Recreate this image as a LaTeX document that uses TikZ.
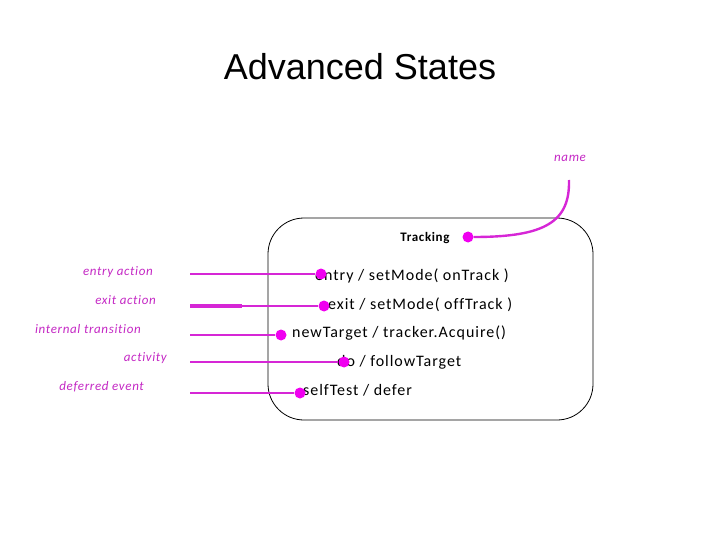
\documentclass[tikz,border=0pt]{standalone}
\usepackage{fontspec}
\setmainfont{Carlito}
\newfontfamily\arialf{Liberation Sans}
\newfontfamily\itemf[LetterSpace=6,Ligatures=NoCommon]{Carlito}
\newfontfamily\lblf[LetterSpace=5,Ligatures=NoCommon]{Carlito}
\definecolor{lnmag}{RGB}{214,38,214}
\definecolor{dotmag}{RGB}{240,0,240}
\definecolor{lblmag}{RGB}{196,40,196}
\begin{document}
\begin{tikzpicture}[x=1pt,y=-1pt,
  lbl/.style={font=\lblf\fontsize{13}{15}\selectfont\itshape, text=lblmag, anchor=base east, inner sep=0},
  itm/.style={font=\itemf\fontsize{16}{18}\selectfont, anchor=base west, inner sep=0},
  dotn/.style={circle, fill=dotmag, inner sep=0, minimum size=11pt},
  conn/.style={draw=lnmag, line width=2.4pt}]
\useasboundingbox (0,0) rectangle (720,540);
\node[font=\arialf\fontsize{36}{40}\selectfont, anchor=base] (title) at (360,80) {Advanced States};
\node[draw=black, line width=0.8pt, rounded corners=36pt, minimum width=325pt, minimum height=202pt, inner sep=0] (state) at (430.5,319) {};
\node[font=\lblf\fontsize{13}{15}\selectfont\bfseries, anchor=base, inner sep=0] (trk) at (425,241) {Tracking};
\node[dotn] (dn) at (468,237) {};
\node[lbl, anchor=base] (name) at (570,162) {name};
\coordinate (nstart) at (569,180);
\draw[conn] (nstart) .. controls (570,222) and (545,237) .. (dn);
% labels
\node[lbl] (l1) at (153,275) {entry action};
\node[lbl] (l2) at (156,304) {exit action};
\node[lbl] (l3) at (141,333) {internal transition};
\node[lbl] (l4) at (167,361) {activity};
\node[lbl] (l5) at (144,390) {deferred event};
% items
\node[itm] (i1) at (315,280) {entry / setMode( onTrack )};
\node[itm] (i2) at (328,309) {exit / setMode( offTrack )};
\node[itm] (i3) at (292,337) {newTarget / tracker.Acquire()};
\node[itm] (i4) at (337,366) {do / followTarget};
\node[itm] (i5) at (303,395) {selfTest / defer};
% dots
\node[dotn] (d1) at (321,274) {};
\node[dotn] (d2) at (324,306) {};
\node[dotn] (d3) at (281,335) {};
\node[dotn] (d4) at (344,362) {};
\node[dotn] (d5) at (300,393) {};
\coordinate (s1) at (190,274);
\coordinate (s2) at (190,306);
\coordinate (s2b) at (242,306);
\coordinate (s3) at (190,335);
\coordinate (s4) at (190,362);
\coordinate (s5) at (190,393);
\draw[conn] (s1) -- (d1);
\draw[conn] (s2) -- (d2);
\draw[draw=lnmag, line width=3.2pt] (s2) -- (s2b);
\draw[conn] (s3) -- (d3);
\draw[conn] (s4) -- (d4);
\draw[conn] (s5) -- (d5);
\end{tikzpicture}
\end{document}
